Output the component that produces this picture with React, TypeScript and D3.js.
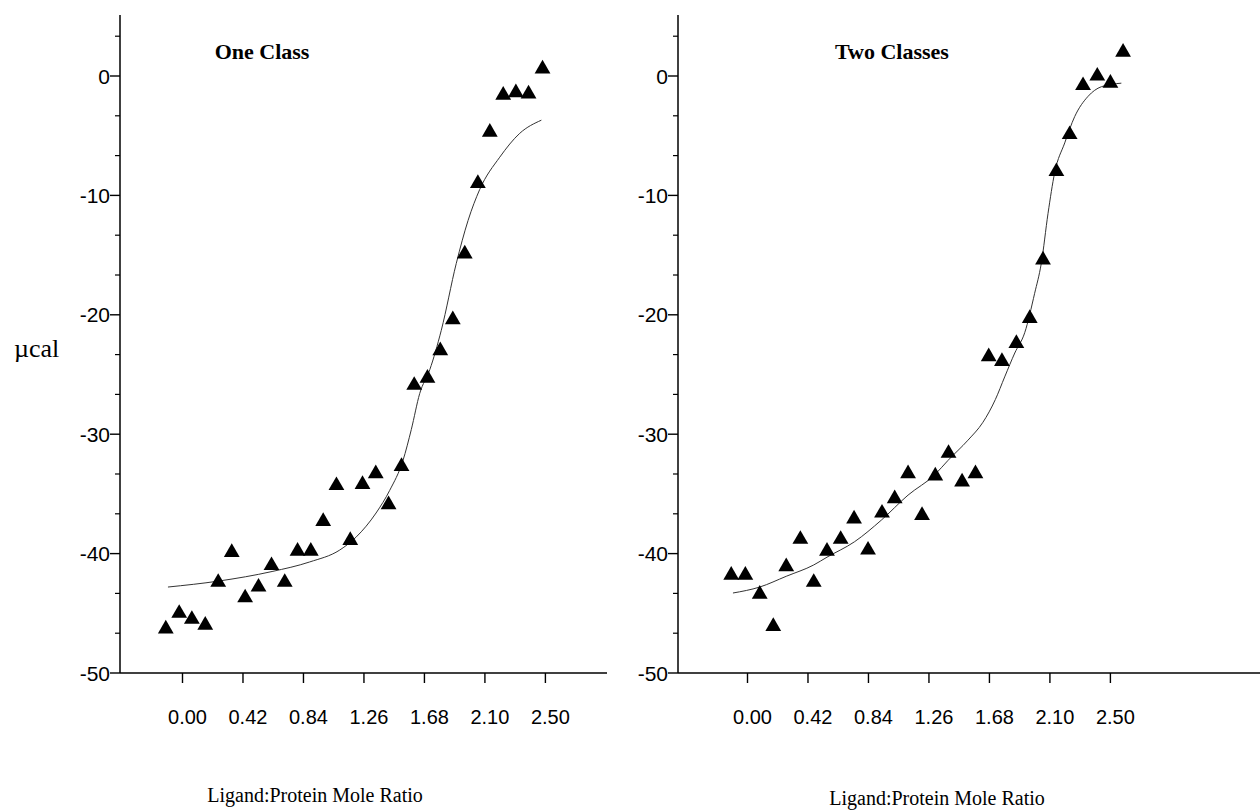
import React from "react";
import * as d3 from "d3";

// ---------- data ----------
const xTickValues = [0, 0.42, 0.84, 1.26, 1.68, 2.1, 2.52];
const xTickLabels = ["0.00", "0.42", "0.84", "1.26", "1.68", "2.10", "2.50"];
const yTickValues = [0, -10, -20, -30, -40, -50];
const yMinorValues = [3.333, -3.333, -6.667, -13.333, -16.667, -23.333, -26.667, -33.333, -36.667, -43.333, -46.667];

const oneClassRatio = [-0.116, -0.023, 0.065, 0.158, 0.248, 0.342, 0.435, 0.528, 0.618, 0.71, 0.799, 0.891, 0.977, 1.069, 1.165, 1.25, 1.342, 1.431, 1.521, 1.609, 1.701, 1.79, 1.877, 1.96, 2.051, 2.134, 2.227, 2.315, 2.403, 2.5];
const oneClassHeat = [-46.3, -45.0, -45.5, -46.0, -42.4, -39.9, -43.7, -42.8, -41.0, -42.4, -39.8, -39.8, -37.3, -34.3, -38.9, -34.2, -33.3, -35.9, -32.7, -25.9, -25.3, -23.0, -20.4, -14.9, -9.0, -4.7, -1.6, -1.4, -1.5, 0.6];
const oneClassFitRatio = [-0.101, 0.251, 0.622, 0.883, 1.092, 1.207, 1.344, 1.439, 1.531, 1.589, 1.647, 1.717, 1.797, 1.901, 1.983, 2.064, 2.203, 2.342, 2.492];
const oneClassFitHeat = [-42.8, -42.3, -41.5, -40.7, -39.7, -38.6, -36.6, -34.7, -32.2, -29.6, -26.6, -24.6, -21.3, -15.7, -12.1, -9.5, -6.8, -4.8, -3.7];

const twoClassRatio = [-0.113, -0.015, 0.085, 0.179, 0.269, 0.367, 0.46, 0.552, 0.647, 0.74, 0.837, 0.934, 1.022, 1.115, 1.212, 1.304, 1.396, 1.49, 1.583, 1.675, 1.767, 1.867, 1.96, 2.052, 2.145, 2.237, 2.33, 2.429, 2.52, 2.608];
const twoClassHeat = [-41.8, -41.8, -43.4, -46.1, -41.1, -38.8, -42.4, -39.8, -38.8, -37.1, -39.7, -36.6, -35.4, -33.3, -36.8, -33.5, -31.6, -34.0, -33.3, -23.5, -23.9, -22.4, -20.3, -15.4, -8.0, -4.9, -0.8, 0.0, -0.6, 2.0];
const twoClassFitRatio = [-0.101, 0.085, 0.269, 0.46, 0.552, 0.744, 0.929, 1.115, 1.3, 1.392, 1.531, 1.635, 1.721, 1.786, 1.856, 1.925, 1.994, 2.04, 2.087, 2.133, 2.203, 2.272, 2.365, 2.457, 2.596];
const twoClassFitHeat = [-43.3, -42.8, -41.9, -40.95, -40.3, -39.0, -37.2, -35.1, -33.4, -32.2, -30.5, -29.0, -27.1, -25.2, -23.2, -21.5, -18.2, -15.7, -11.5, -8.1, -5.6, -3.4, -1.7, -0.9, -0.6];

const SANS = "'Liberation Sans', Arial, sans-serif";
const SERIF = "'Liberation Serif', 'Times New Roman', serif";

type PanelProps = {
  title: string;
  ratio: number[];
  heat: number[];
  fitRatio: number[];
  fitHeat: number[];
  axisX: number;
  axisEnd: number;
  xRange: [number, number];
  titleX: number;
  labelX: number;
  labelY: number;
};

const Y_TOP = 15;
const Y_BOTTOM = 673;

function Panel(p: PanelProps) {
  const y = d3.scaleLinear().domain([-50, 0]).range([673, 76]);
  const x = d3.scaleLinear().domain([0, 2.52]).range(p.xRange);
  const line = d3
    .line<number>()
    .x((_, i) => x(p.fitRatio[i]))
    .y((d) => y(d))
    .curve(d3.curveMonotoneX);
  const tri = d3.symbol().type(d3.symbolTriangle).size(108)();
  return (
    <g>
      {/* y axis */}
      <line x1={p.axisX} x2={p.axisX} y1={Y_TOP} y2={Y_BOTTOM} stroke="#000" strokeWidth={1.5} />
      {yTickValues.map((v) => (
        <g key={"y" + v}>
          <line x1={p.axisX - 10} x2={p.axisX} y1={y(v)} y2={y(v)} stroke="#000" strokeWidth={1.4} />
          <text x={p.axisX - 10} y={y(v)} dy="0.36em" textAnchor="end" fontFamily={SANS} fontSize={21} fill="#000">
            {v}
          </text>
        </g>
      ))}
      {yMinorValues.map((v) => (
        <line key={"m" + v} x1={p.axisX - 5} x2={p.axisX} y1={y(v)} y2={y(v)} stroke="#000" strokeWidth={1.2} />
      ))}
      {/* x axis */}
      <line x1={p.axisX} x2={p.axisEnd} y1={Y_BOTTOM} y2={Y_BOTTOM} stroke="#000" strokeWidth={1.5} />
      {xTickValues.map((v, i) => (
        <g key={"x" + v}>
          <line x1={x(v)} x2={x(v)} y1={Y_BOTTOM} y2={Y_BOTTOM + 10} stroke="#000" strokeWidth={1.4} />
          <text x={x(v) + 5} y={724} textAnchor="middle" fontFamily={SANS} fontSize={20} fill="#000">
            {xTickLabels[i]}
          </text>
        </g>
      ))}
      {/* fit curve */}
      <path d={line(p.fitHeat) || ""} fill="none" stroke="#333" strokeWidth={1} />
      {/* points */}
      {p.heat.map((v, i) => (
        <path key={"p" + i} d={tri || ""} transform={`translate(${x(p.ratio[i])},${y(v)})`} fill="#000" />
      ))}
      <text x={p.titleX} y={59} textAnchor="middle" fontFamily={SERIF} fontSize={22} fontWeight="bold" fill="#000">
        {p.title}
      </text>
      <text x={p.labelX} y={p.labelY} textAnchor="middle" fontFamily={SERIF} fontSize={20} fill="#000">
        Ligand:Protein Mole Ratio
      </text>
    </g>
  );
}

export default function App() {
  return (
    <svg width={1260} height={810} style={{ position: "absolute", left: 0, top: 0, background: "#fff" }}>
      <rect width={1260} height={810} fill="#fff" />
      <text x={14} y={357} fontFamily={SERIF} fontSize={26} fill="#000">
        µcal
      </text>
      <Panel
        title="One Class"
        ratio={oneClassRatio}
        heat={oneClassHeat}
        fitRatio={oneClassFitRatio}
        fitHeat={oneClassFitHeat}
        axisX={120}
        axisEnd={607}
        xRange={[182.5, 545.4]}
        titleX={262}
        labelX={315}
        labelY={802}
      />
      <Panel
        title="Two Classes"
        ratio={twoClassRatio}
        heat={twoClassHeat}
        fitRatio={twoClassFitRatio}
        fitHeat={twoClassFitHeat}
        axisX={678}
        axisEnd={1260}
        xRange={[747.5, 1110.4]}
        titleX={892}
        labelX={937}
        labelY={805}
      />
    </svg>
  );
}
